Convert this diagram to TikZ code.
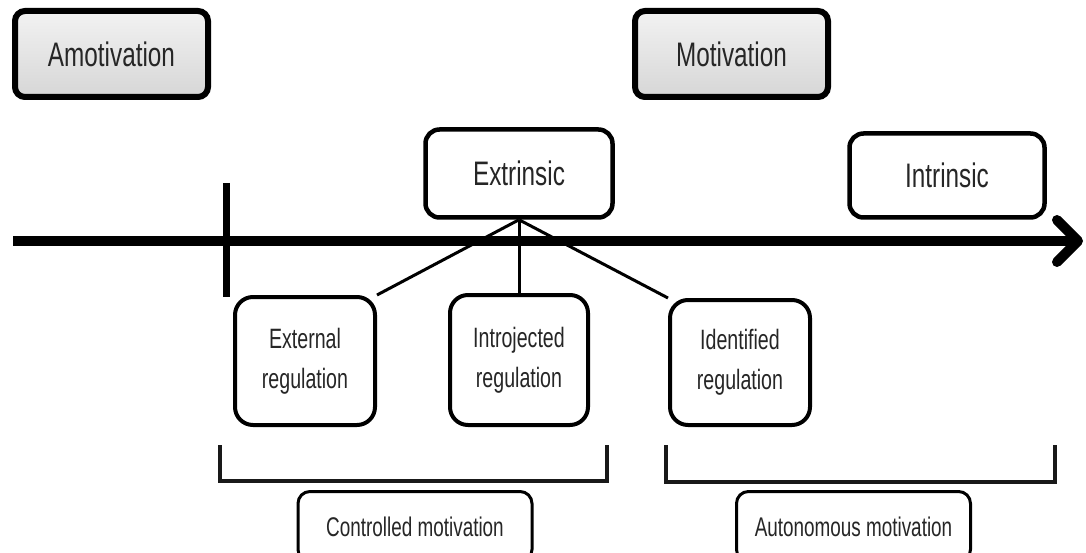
\documentclass[tikz,border=0pt]{standalone}
\usepackage{fontspec}
\setmainfont{Liberation Sans}
\newfontfamily\condA[FakeStretch=0.715]{Liberation Sans}
\newfontfamily\condB[FakeStretch=0.70]{Liberation Sans}
\usetikzlibrary{backgrounds}
\begin{document}
\begin{tikzpicture}[x=1pt,y=-1pt,
  topbox/.style={draw=black, line width=6pt, rounded corners=10pt, inner sep=0pt,
    top color=gray!10, bottom color=gray!32, text=black!85,
    font=\condA\fontsize{34}{38}\selectfont},
  midbox/.style={draw=black, line width=4.5pt, rounded corners=14pt, inner sep=0pt,
    fill=white, text=black!85, font=\condA\fontsize{34}{38}\selectfont},
  regbox/.style={draw=black, line width=4pt, rounded corners=18pt, inner sep=0pt,
    fill=white, text=black!85, align=center, minimum width=140pt,
    font=\condB\fontsize{28}{40}\selectfont},
  lowbox/.style={draw=black, line width=3pt, rounded corners=12pt, inner sep=0pt,
    fill=white, text=black!85, minimum width=234pt, minimum height=70pt,
    font=\condB\fontsize{27}{30}\selectfont},
  branch/.style={draw=black, line width=3pt},
  bracket/.style={draw=black!90, line width=3.5pt},
  axisline/.style={draw=black, line width=10pt}
]
\useasboundingbox (0,0) rectangle (1086,553);
\clip (0,0) rectangle (1086,553);

% top boxes
\node[topbox, minimum width=193pt, minimum height=86pt] (amo) at (111.5,54) {Amotivation};
\node[topbox, minimum width=193pt, minimum height=86pt] (mot) at (731.5,54) {Motivation};

% axis
\coordinate (axL) at (13,241);
\coordinate (axR) at (1072,241);
\coordinate (hdT) at (1057,220);
\coordinate (hdP) at (1078,241);
\coordinate (hdB) at (1057,262);
\draw[axisline] (axL) -- (axR);
\draw[axisline, line join=round, line cap=round] (hdT) -- (hdP) -- (hdB);
\coordinate (tkT) at (226.5,183);
\coordinate (tkB) at (226.5,297);
\draw[line width=7pt] (tkT) -- (tkB);

% middle boxes
\node[midbox, minimum width=187pt, minimum height=88pt] (ext) at (519,173.5) {Extrinsic};
\node[midbox, minimum width=195pt, minimum height=84pt] (int) at (947,175.5) {Intrinsic};

% regulation boxes
\node[regbox, minimum height=128pt] (exr) at (305,361) {External\\regulation};
\node[regbox, minimum width=138pt, minimum height=130pt] (inr) at (519,360) {Introjected\\regulation};
\node[regbox, minimum height=125pt] (idr) at (740,362.5) {Identified\\regulation};

% branches
\begin{scope}[on background layer]
\draw[branch] (ext.south) -- (exr.north east);
\draw[branch] (ext.south) -- (inr.north);
\draw[branch] (ext.south) -- (idr.north west);
\end{scope}

% brackets
\coordinate (b1a) at (220,445);
\coordinate (b1b) at (220,481);
\coordinate (b1c) at (607,481);
\coordinate (b1d) at (607,445);
\draw[bracket] (b1a) -- (b1b) -- (b1c) -- (b1d);
\coordinate (b2a) at (666,445);
\coordinate (b2b) at (666,482);
\coordinate (b2c) at (1055,482);
\coordinate (b2d) at (1055,445);
\draw[bracket] (b2a) -- (b2b) -- (b2c) -- (b2d);

% bottom boxes
\node[lowbox] (con) at (415,526.5) {Controlled motivation};
\node[lowbox] (aut) at (853.5,526.5) {Autonomous motivation};
\end{tikzpicture}
\end{document}
